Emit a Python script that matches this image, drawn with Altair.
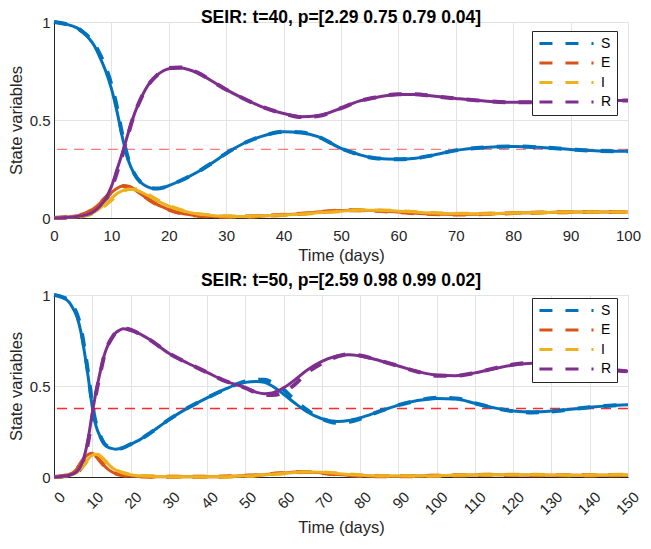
import altair as alt
import pandas as pd

FONT = "Liberation Sans"
VARS = ["S", "E", "I", "R"]
COLORS = ["#0072BD", "#D95319", "#EDB120", "#7E2F8E"]

# ---------------- top panel (t=40) ----------------
t1 = [0, 2, 4, 5, 6, 7, 8, 9, 10, 11, 12, 13, 14, 15, 16, 17, 18, 19, 20, 22, 25, 28, 30,
      33, 36, 40, 43, 46, 50, 53, 56, 60, 63, 66, 70, 75, 80, 85, 90, 95, 100]
S1 = [1.0, 0.99, 0.97, 0.95, 0.92, 0.88, 0.82, 0.75, 0.66, 0.54, 0.40, 0.29, 0.225, 0.185, 0.163,
      0.152, 0.15, 0.155, 0.165, 0.19, 0.235, 0.29, 0.33, 0.38, 0.415, 0.44, 0.435, 0.415, 0.355,
      0.325, 0.305, 0.30, 0.305, 0.32, 0.345, 0.36, 0.365, 0.36, 0.35, 0.342, 0.34]
E1 = [0.0, 0.004, 0.012, 0.018, 0.03, 0.05, 0.075, 0.105, 0.13, 0.152, 0.163, 0.16, 0.145, 0.125,
      0.105, 0.085, 0.068, 0.055, 0.043, 0.025, 0.012, 0.007, 0.006, 0.007, 0.01, 0.016, 0.022,
      0.03, 0.038, 0.04, 0.037, 0.03, 0.024, 0.02, 0.018, 0.02, 0.025, 0.028, 0.03, 0.03, 0.03]
I1 = [0.0, 0.002, 0.006, 0.01, 0.018, 0.03, 0.05, 0.075, 0.10, 0.125, 0.14, 0.148, 0.145, 0.135,
      0.12, 0.105, 0.088, 0.073, 0.06, 0.04, 0.02, 0.012, 0.009, 0.008, 0.01, 0.015, 0.02, 0.027,
      0.035, 0.04, 0.04, 0.035, 0.03, 0.025, 0.022, 0.022, 0.025, 0.028, 0.03, 0.03, 0.03]
R1 = [0.0, 0.002, 0.008, 0.012, 0.02, 0.035, 0.06, 0.10, 0.16, 0.25, 0.34, 0.44, 0.53, 0.60, 0.66,
      0.70, 0.73, 0.75, 0.762, 0.765, 0.74, 0.69, 0.655, 0.61, 0.57, 0.533, 0.517, 0.522, 0.56,
      0.595, 0.615, 0.63, 0.63, 0.622, 0.61, 0.597, 0.59, 0.59, 0.595, 0.60, 0.60]
S1_fit = [1.0, 0.99, 0.97, 0.95, 0.925, 0.89, 0.835, 0.77, 0.68, 0.56, 0.41, 0.295, 0.225, 0.185,
          0.163, 0.152, 0.15, 0.155, 0.165, 0.19, 0.235, 0.29, 0.33, 0.38, 0.415, 0.44, 0.437,
          0.415, 0.355, 0.325, 0.305, 0.30, 0.305, 0.32, 0.345, 0.36, 0.365, 0.36, 0.35, 0.342, 0.34]
E1_fit = E1
I1_fit = [0.0, 0.002, 0.006, 0.01, 0.016, 0.027, 0.045, 0.068, 0.092, 0.118, 0.135, 0.148, 0.148,
          0.138, 0.124, 0.108, 0.09, 0.075, 0.062, 0.041, 0.021, 0.012, 0.009, 0.008, 0.01, 0.015,
          0.02, 0.027, 0.035, 0.04, 0.04, 0.035, 0.03, 0.025, 0.022, 0.022, 0.025, 0.028, 0.03,
          0.03, 0.03]
R1_fit = [0.0, 0.002, 0.008, 0.012, 0.02, 0.033, 0.055, 0.09, 0.15, 0.235, 0.33, 0.435, 0.53, 0.60,
          0.66, 0.70, 0.73, 0.75, 0.765, 0.768, 0.742, 0.69, 0.655, 0.61, 0.57, 0.533, 0.515,
          0.52, 0.56, 0.595, 0.615, 0.632, 0.632, 0.622, 0.61, 0.597, 0.59, 0.59, 0.595, 0.60, 0.60]

# ---------------- bottom panel (t=50) ----------------
t2 = [0, 2, 4, 5, 6, 7, 8, 9, 10, 11, 12, 13, 14, 15, 16, 17, 18, 20, 22, 25, 30, 35, 40, 45, 48,
      50, 53, 55, 57, 60, 63, 66, 70, 74, 77, 80, 85, 90, 95, 100, 105, 110, 115, 120, 125, 130,
      135, 140, 145, 150]
S2 = [1.0, 0.99, 0.96, 0.925, 0.88, 0.80, 0.68, 0.54, 0.385, 0.28, 0.225, 0.185, 0.165, 0.157,
      0.153, 0.155, 0.16, 0.18, 0.20, 0.24, 0.315, 0.38, 0.435, 0.485, 0.51, 0.52, 0.525, 0.52,
      0.50, 0.455, 0.405, 0.36, 0.32, 0.305, 0.31, 0.325, 0.36, 0.395, 0.42, 0.432, 0.428, 0.405,
      0.38, 0.362, 0.357, 0.362, 0.372, 0.383, 0.392, 0.397]
E2 = [0.0, 0.004, 0.015, 0.025, 0.045, 0.075, 0.105, 0.125, 0.13, 0.115, 0.09, 0.065, 0.045, 0.03,
      0.02, 0.014, 0.01, 0.005, 0.003, 0.002, 0.001, 0.001, 0.001, 0.003, 0.005, 0.007, 0.01,
      0.013, 0.017, 0.022, 0.027, 0.028, 0.022, 0.014, 0.01, 0.007, 0.004, 0.004, 0.005, 0.007,
      0.009, 0.011, 0.012, 0.011, 0.01, 0.009, 0.009, 0.009, 0.01, 0.01]
I2 = [0.0, 0.002, 0.008, 0.014, 0.025, 0.045, 0.07, 0.10, 0.12, 0.125, 0.115, 0.095, 0.075, 0.055,
      0.04, 0.03, 0.022, 0.012, 0.007, 0.004, 0.002, 0.001, 0.001, 0.002, 0.004, 0.006, 0.009,
      0.012, 0.015, 0.02, 0.025, 0.028, 0.026, 0.019, 0.014, 0.01, 0.006, 0.005, 0.005, 0.007,
      0.009, 0.011, 0.013, 0.013, 0.012, 0.011, 0.01, 0.01, 0.011, 0.012]
R2 = [0.0, 0.003, 0.01, 0.017, 0.03, 0.06, 0.12, 0.22, 0.35, 0.47, 0.57, 0.66, 0.72, 0.76, 0.79,
      0.805, 0.815, 0.805, 0.79, 0.755, 0.68, 0.625, 0.575, 0.525, 0.505, 0.49, 0.465, 0.458,
      0.462, 0.49, 0.535, 0.585, 0.635, 0.665, 0.672, 0.665, 0.64, 0.61, 0.58, 0.56, 0.557,
      0.572, 0.595, 0.615, 0.625, 0.622, 0.612, 0.598, 0.588, 0.581]
S2_fit = [1.0, 0.99, 0.965, 0.935, 0.895, 0.82, 0.70, 0.56, 0.40, 0.29, 0.23, 0.188, 0.167, 0.157,
          0.153, 0.155, 0.16, 0.18, 0.20, 0.24, 0.315, 0.38, 0.435, 0.485, 0.512, 0.525, 0.535,
          0.535, 0.52, 0.48, 0.42, 0.37, 0.32, 0.298, 0.303, 0.32, 0.36, 0.395, 0.42, 0.435, 0.432,
          0.405, 0.38, 0.362, 0.355, 0.36, 0.372, 0.383, 0.392, 0.397]
E2_fit = E2
I2_fit = I2
R2_fit = [0.0, 0.003, 0.01, 0.015, 0.025, 0.05, 0.10, 0.20, 0.33, 0.46, 0.56, 0.655, 0.72, 0.76,
          0.79, 0.805, 0.815, 0.81, 0.79, 0.755, 0.68, 0.625, 0.575, 0.525, 0.505, 0.49, 0.462,
          0.452, 0.45, 0.465, 0.51, 0.57, 0.625, 0.662, 0.675, 0.668, 0.64, 0.61, 0.578, 0.557,
          0.557, 0.572, 0.597, 0.618, 0.628, 0.622, 0.612, 0.598, 0.588, 0.581]

THRESH = [0.35, 0.376]
THRESH_COLORS = ["#ff7a7a", "#ff2a2a"]
TITLES = ["SEIR: t=40, p=[2.29 0.75 0.79 0.04]", "SEIR: t=50, p=[2.59 0.98 0.99 0.02]"]
XMAX = [100, 150]
XTICKS = [list(range(0, 101, 10)), list(range(0, 151, 10))]


def panel_df(t, model, fit):
    rows = []
    for v, m, f in zip(VARS, model, fit):
        for ti, a, b in zip(t, m, f):
            rows.append({"t": ti, "var": v, "model": a, "fit": b})
    return pd.DataFrame(rows)


def panel(df, idx, height, rotated, legend_y, title_offset):
    xscale = alt.Scale(domain=[0, XMAX[idx]], nice=False, zero=False)
    yscale = alt.Scale(domain=[0, 1], nice=False)
    if rotated:
        xaxis = alt.Axis(values=XTICKS[idx], title="Time (days)", labelAngle=315,
                         labelAlign="right", labelBaseline="middle", labelPadding=17,
                         labelOffset=8, titlePadding=2)
    else:
        xaxis = alt.Axis(values=XTICKS[idx], title="Time (days)", labelAngle=0,
                         labelAlign="center", labelBaseline="top", labelPadding=10,
                         titlePadding=4)
    yaxis = alt.Axis(values=[0, 0.5, 1], format="~g", title="State variables",
                     labelPadding=4, titlePadding=4.5)
    legend = alt.Legend(title=None, orient="none", legendX=478, legendY=legend_y,
                        symbolType="M-5,0H5", symbolSize=117, symbolStrokeWidth=3,
                        symbolDash=[13, 13], symbolOffset=22, labelFontSize=14,
                        labelFont=FONT, labelColor="black", fillColor="white",
                        strokeColor="#262626", padding=5.5, rowPadding=5.5, labelOffset=27.5)
    color = alt.Color("var:N", scale=alt.Scale(domain=VARS, range=COLORS), legend=legend)

    rule = alt.Chart(pd.DataFrame({"y": [THRESH[idx]]})).mark_rule(
        color=THRESH_COLORS[idx], strokeDash=[10, 7], strokeWidth=1.4
    ).encode(y=alt.Y("y:Q", scale=yscale, axis=yaxis))

    layers = [rule]
    for v in VARS:
        layers.append(
            alt.Chart(df).transform_filter(alt.datum["var"] == v).mark_line(
                strokeWidth=4, strokeDash=[13, 13], interpolate="monotone"
            ).encode(
                x=alt.X("t:Q", scale=xscale, axis=xaxis),
                y=alt.Y("fit:Q", scale=yscale, axis=yaxis),
                color=color,
            )
        )
    for v in VARS:
        layers.append(
            alt.Chart(df).transform_filter(alt.datum["var"] == v).mark_line(
                strokeWidth=3, interpolate="monotone"
            ).encode(
                x=alt.X("t:Q", scale=xscale, axis=xaxis),
                y=alt.Y("model:Q", scale=yscale, axis=yaxis),
                color=color,
            )
        )
    return alt.layer(*layers).properties(
        width=574, height=height,
        title=alt.TitleParams(TITLES[idx], fontSize=17.5, fontWeight="bold", font=FONT,
                              color="black", offset=title_offset),
    )


df1 = panel_df(t1, [S1, E1, I1, R1], [S1_fit, E1_fit, I1_fit, R1_fit])
df2 = panel_df(t2, [S2, E2, I2, R2], [S2_fit, E2_fit, I2_fit, R2_fit])

top = panel(df1, 0, 196, False, 9, -12)
bottom = panel(df2, 1, 182, True, 3, -2.5)

chart = alt.vconcat(top, bottom, spacing=7).resolve_scale(color="independent").resolve_legend(
    color="independent"
).properties(
    padding={"left": 0, "top": 0, "right": 0, "bottom": 0},
).configure_view(stroke="#d0d0d0").configure_axis(
    gridColor="#e3e3e3", domainColor="#262626", labelColor="#262626", titleColor="#262626",
    labelFont=FONT, titleFont=FONT, labelFontSize=15, titleFontSize=16.5,
    titleFontWeight="normal", ticks=False, tickSize=0, domainWidth=1,
).configure_concat(spacing=7)

chart.save("out.html", embed_options={"renderer": "svg", "actions": False})
